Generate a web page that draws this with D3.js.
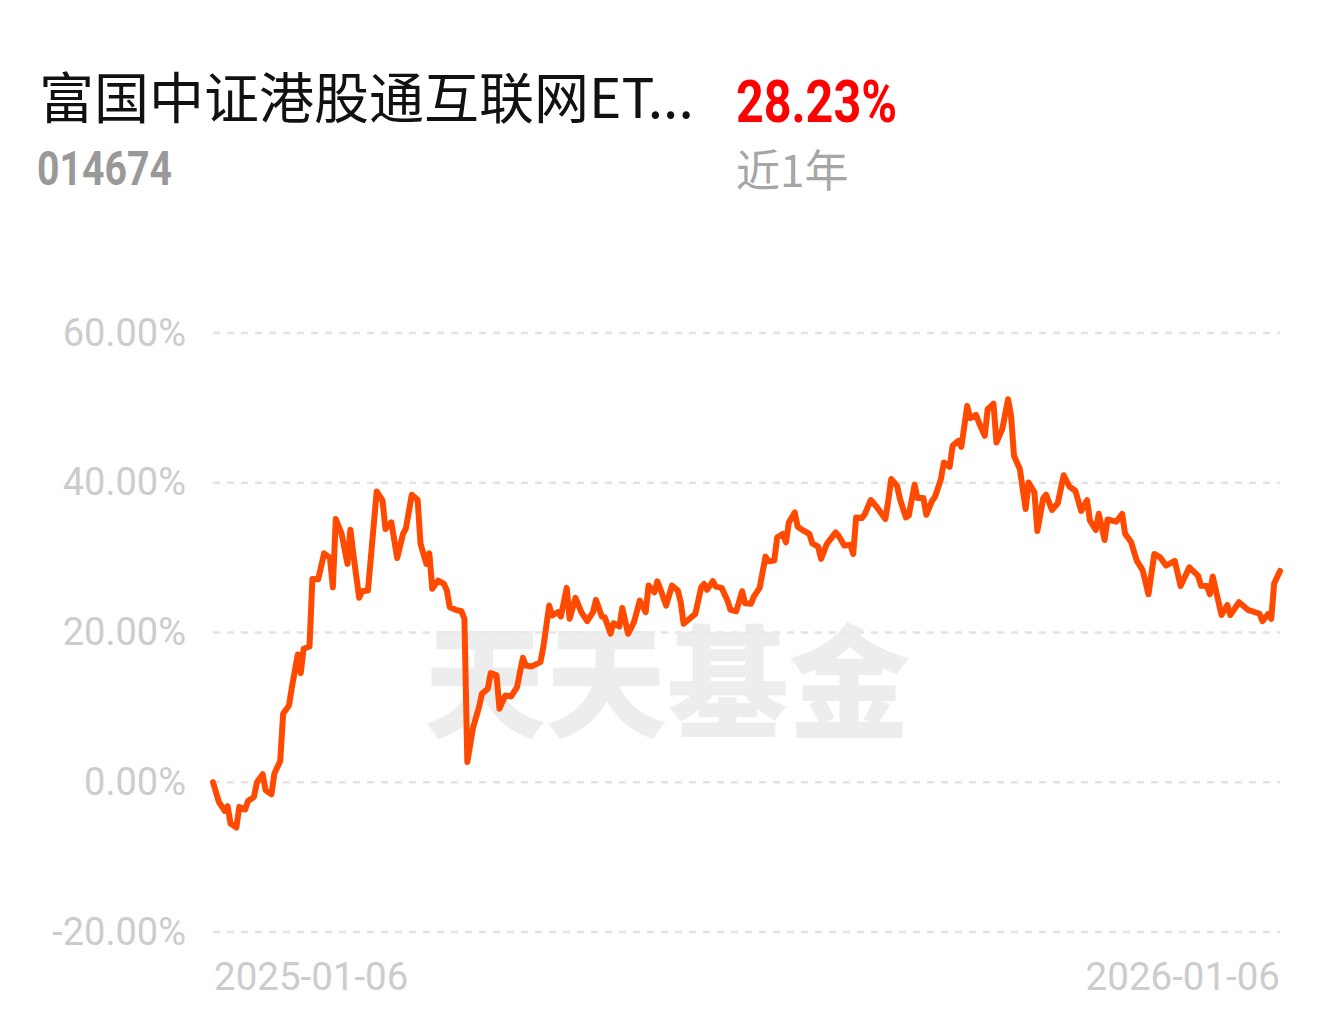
<!DOCTYPE html>
<html>
<head>
<meta charset="utf-8">
<script src="https://cdn.jsdelivr.net/npm/d3@7"></script>
<style>
  html, body { margin: 0; padding: 0; background: #fff; }
  svg { display: block; }
</style>
</head>
<body>
<svg id="chart" width="1335" height="1022"></svg>
<script>
// ---- data ----
const fundName = "富国中证港股通互联网ET...";
const fundCode = "014674";
const periodReturn = "28.23%";
const periodLabel = "近1年";
const watermark = "天天基金";
const startDate = "2025-01-06";
const endDate = "2026-01-06";
const yTicks = [-20, 0, 20, 40, 60];
const xTickLabels = ["2025-01-06", "2026-01-06"];
// days since 2025-01-06
const dayOffsets = [
  0, 2, 4, 5, 6, 8, 9, 11, 12, 14, 15, 17, 18, 20, 21, 23, 24, 26, 27, 29,
  30, 31, 33, 34, 36, 38, 40, 41, 42, 44, 46, 47, 48, 50, 51, 53, 56, 58, 59, 61,
  63, 65, 66, 68, 70, 71, 73, 74, 75, 77, 79, 80, 81, 83, 85, 86, 87, 89, 91, 92,
  94, 95, 97, 98, 100, 102, 104, 106, 107, 109, 112, 113, 115, 116, 118, 119, 121, 122, 124, 126,
  128, 130, 131, 133, 134, 136, 137, 139, 140, 142, 144, 146, 148, 149, 151, 152, 153, 155, 157, 159,
  160, 161, 163, 165, 167, 168, 169, 171, 172, 174, 176, 177, 179, 181, 182, 184, 185, 187, 189, 190,
  192, 193, 195, 196, 197, 199, 200, 202, 204, 205, 207, 208, 210, 213, 214, 216, 218, 219, 220, 222,
  223, 225, 227, 230, 231, 232, 234, 235, 237, 238, 240, 241, 243, 244, 246, 247, 249, 250, 252, 253,
  255, 256, 258, 259, 261, 262, 264, 265, 267, 268, 270, 272, 273, 274, 276, 278, 279, 281, 282, 284,
  285, 287, 289, 291, 293, 295, 297, 299, 300, 302, 303, 305, 306, 309, 311, 312, 314, 316, 318, 320,
  322, 324, 326, 329, 331, 334, 337, 338, 340, 341, 342, 345, 347, 348, 351, 354, 357, 358, 359, 361,
  362, 363, 365
];
// cumulative return, %
const returns = [
  0.00, -2.63, -3.83, -3.20, -5.51, -6.04, -3.29, -3.64, -2.49, -1.96, -0.04, 1.07, -1.07, -1.60, 1.16, 2.84, 9.16, 10.27, 12.71, 17.07,
  14.57, 17.83, 18.13, 27.16, 27.11, 30.57, 29.96, 26.04, 35.16, 33.16, 29.16, 33.73, 30.49, 24.63, 25.51, 25.60, 38.84, 37.60, 33.83, 34.71,
  29.96, 33.16, 33.91, 38.40, 37.73, 31.83, 29.16, 30.57, 25.83, 26.93, 26.49, 25.60, 23.37, 23.03, 22.84, 21.83, 2.71, 7.37, 10.04, 11.83,
  12.49, 14.57, 14.27, 9.83, 11.60, 11.47, 12.71, 16.63, 15.60, 15.47, 16.04, 18.04, 23.60, 22.27, 22.71, 22.13, 25.96, 21.83, 24.63, 22.71,
  21.51, 22.71, 24.36, 22.13, 22.04, 19.83, 21.24, 20.80, 23.29, 19.83, 21.37, 24.27, 22.71, 26.27, 25.37, 26.84, 25.83, 23.60, 26.27, 25.60,
  24.04, 21.16, 21.83, 22.49, 26.04, 26.49, 25.69, 26.84, 26.13, 25.96, 24.27, 23.03, 22.84, 25.51, 23.91, 23.83, 24.80, 25.96, 30.13, 29.51,
  29.60, 32.71, 33.16, 32.04, 34.71, 36.04, 34.13, 33.60, 33.16, 31.91, 31.47, 29.83, 31.83, 33.37, 32.93, 31.60, 31.73, 30.49, 35.37, 35.29,
  35.83, 37.69, 36.80, 35.16, 37.60, 40.49, 39.60, 37.83, 35.37, 35.60, 39.73, 37.96, 37.96, 35.73, 37.60, 38.13, 40.49, 42.71, 42.13, 44.93,
  45.60, 44.80, 50.27, 48.63, 49.07, 48.04, 46.27, 49.83, 50.57, 45.37, 47.16, 51.16, 48.93, 43.60, 41.83, 36.49, 40.04, 38.71, 33.56, 37.93,
  38.40, 36.36, 37.27, 41.00, 39.47, 38.93, 36.23, 37.69, 34.93, 33.69, 35.87, 32.36, 35.09, 34.80, 35.83, 33.20, 32.13, 29.60, 28.33, 25.11,
  30.49, 30.04, 28.93, 29.56, 26.20, 28.71, 27.56, 26.23, 26.20, 25.11, 27.47, 22.33, 23.67, 22.33, 24.04, 23.03, 22.64, 22.49, 21.51, 22.49,
  21.83, 26.53, 28.23
];

// ---- drawing ----
const svg = d3.select("#chart");
const parse = d3.timeParse("%Y-%m-%d");
const t0 = parse(startDate), t1 = parse(endDate);
const data = dayOffsets.map((d, i) => ({ date: d3.timeDay.offset(t0, d), value: returns[i] }));

const x = d3.scaleTime().domain([t0, t1]).range([213, 1280]);
const y = d3.scaleLinear().domain([-20, 60]).range([932, 333]);

// header
svg.append("text")
  .attr("x", 39).attr("y", 118)
  .attr("font-family", "'Noto Sans CJK SC', 'Noto Sans', sans-serif")
  .attr("font-size", 55)
  .attr("fill", "#111")
  .text(fundName);

svg.append("text")
  .attr("x", 37).attr("y", 185)
  .attr("font-family", "Roboto, sans-serif")
  .attr("font-weight", 700)
  .attr("font-size", 48)
  .attr("fill", "#999")
  .attr("textLength", 135)
  .attr("lengthAdjust", "spacingAndGlyphs")
  .text(fundCode);

svg.append("text")
  .attr("x", 736).attr("y", 122)
  .attr("font-family", "Roboto, sans-serif")
  .attr("font-weight", 700)
  .attr("font-size", 59)
  .attr("fill", "#ff0000")
  .attr("textLength", 161)
  .attr("lengthAdjust", "spacingAndGlyphs")
  .text(periodReturn);

svg.append("text")
  .attr("x", 736).attr("y", 187)
  .attr("font-family", "'Noto Sans CJK SC', sans-serif")
  .attr("font-size", 44)
  .attr("fill", "#a6a6a6")
  .text(periodLabel);

// grid
svg.append("g")
  .selectAll("line")
  .data(yTicks)
  .join("line")
  .attr("x1", 213).attr("x2", 1280)
  .attr("y1", d => y(d)).attr("y2", d => y(d))
  .attr("stroke", "#e3e3e3")
  .attr("stroke-width", 2.5)
  .attr("stroke-dasharray", "7,7");

// y axis labels
const yAxis = d3.axisLeft(y).tickValues(yTicks).tickSize(0).tickPadding(0)
  .tickFormat(d => d.toFixed(2) + "%");
const gy = svg.append("g").attr("transform", "translate(186,0)").call(yAxis);
gy.select(".domain").remove();
gy.selectAll("text")
  .attr("font-family", "Roboto, sans-serif")
  .attr("font-size", 38)
  .attr("fill", "#cccccc");

// watermark
svg.append("text")
  .attr("x", 667).attr("y", 728)
  .attr("text-anchor", "middle")
  .attr("font-family", "'Noto Sans CJK SC', sans-serif")
  .attr("font-weight", 900)
  .attr("font-size", 122)
  .attr("fill", "#ebebeb")
  .attr("opacity", 0.85)
  .attr("textLength", 486)
  .attr("lengthAdjust", "spacingAndGlyphs")
  .text(watermark);

// x labels
svg.append("text")
  .attr("x", x(parse(xTickLabels[0])) + 1).attr("y", 990)
  .attr("font-family", "Roboto, sans-serif")
  .attr("font-size", 38.5)
  .attr("fill", "#cccccc")
  .text(xTickLabels[0]);
svg.append("text")
  .attr("x", x(parse(xTickLabels[1]))).attr("y", 990)
  .attr("text-anchor", "end")
  .attr("font-family", "Roboto, sans-serif")
  .attr("font-size", 38.5)
  .attr("fill", "#cccccc")
  .text(xTickLabels[1]);

// line
const line = d3.line().x(d => x(d.date)).y(d => y(d.value));
svg.append("path")
  .datum(data)
  .attr("fill", "none")
  .attr("stroke", "#ff4a00")
  .attr("stroke-width", 6)
  .attr("stroke-linejoin", "round")
  .attr("stroke-linecap", "round")
  .attr("d", line);
</script>
</body>
</html>
